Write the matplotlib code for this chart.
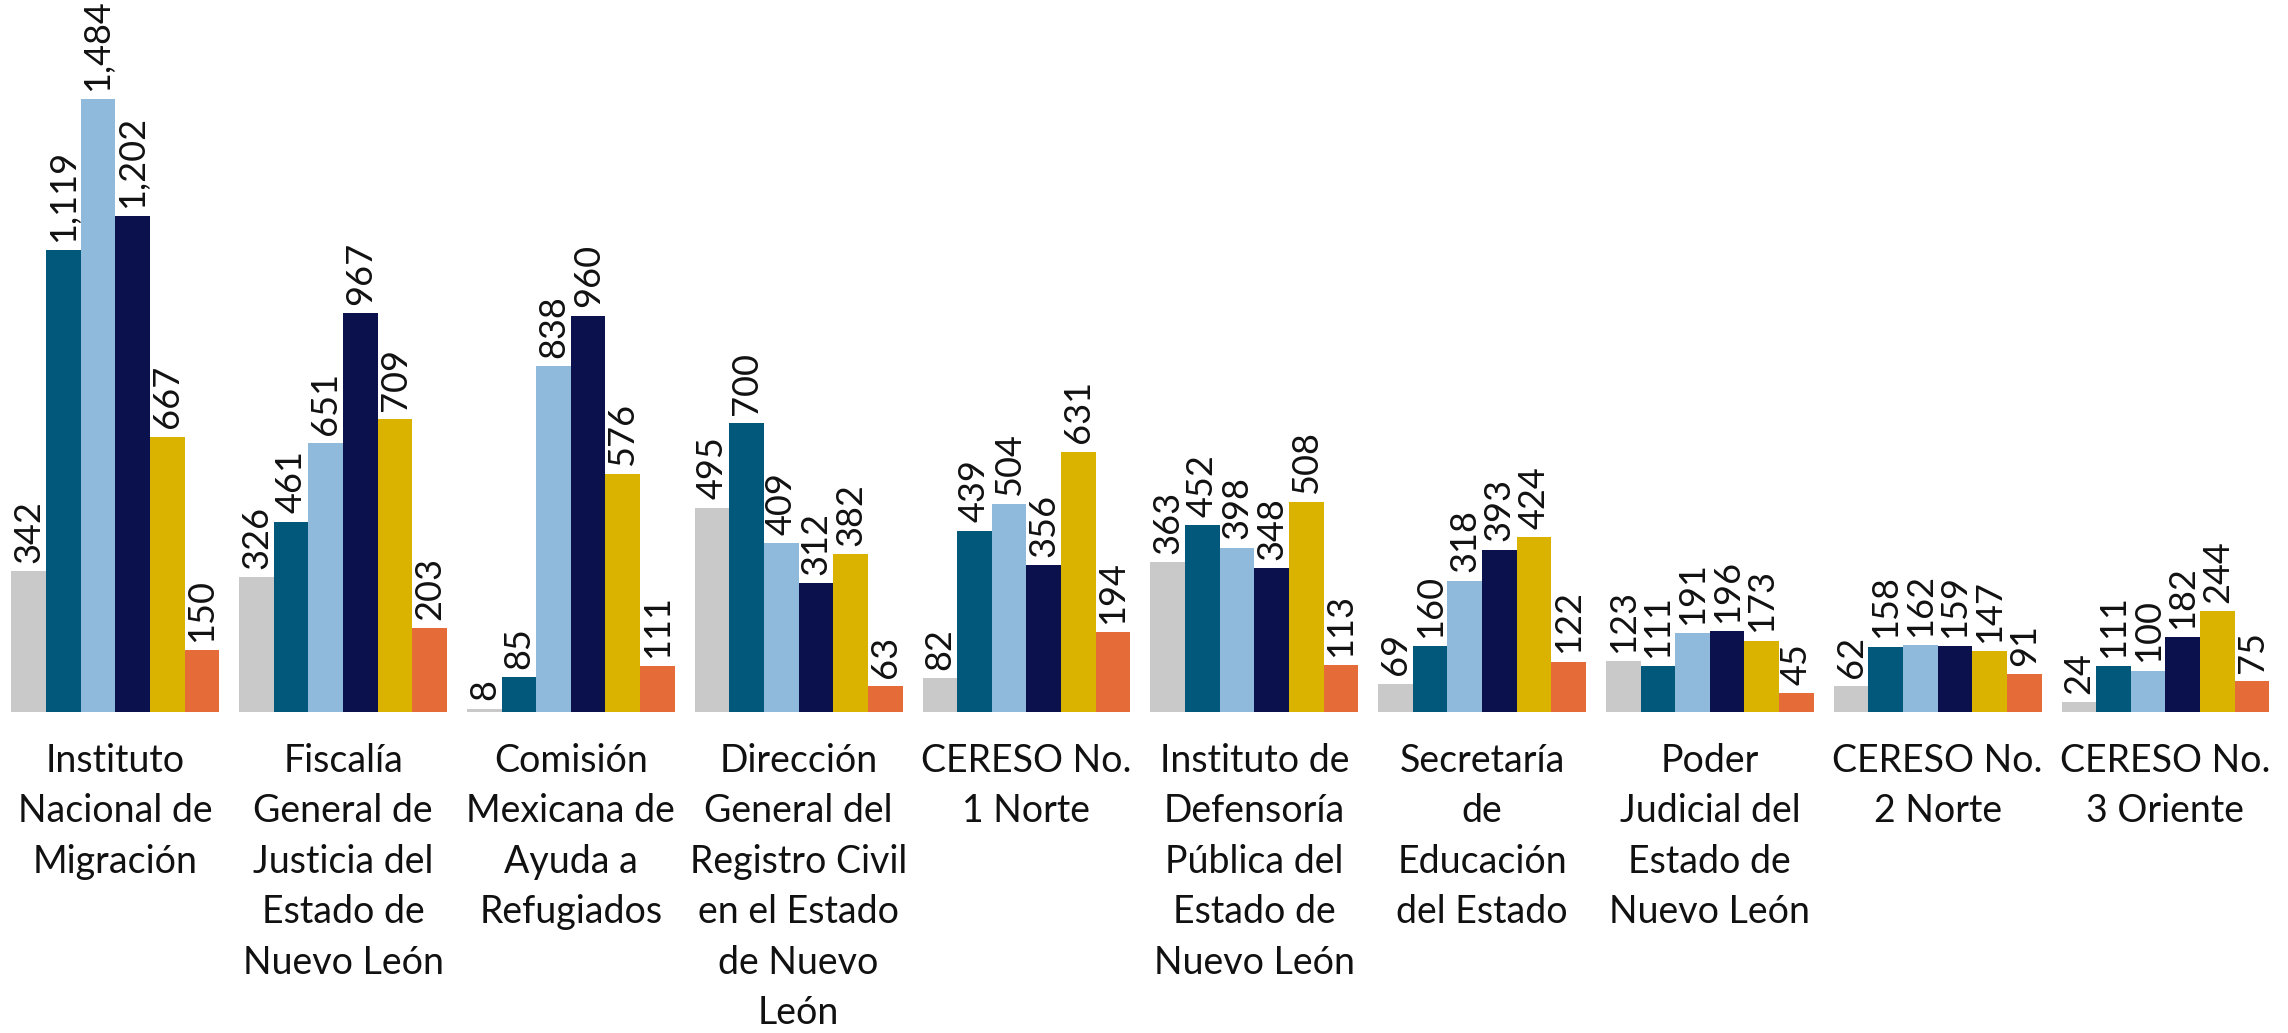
import matplotlib
matplotlib.use("Agg")
import matplotlib.pyplot as plt
import numpy as np

plt.rcParams['font.family'] = ['Lato', 'DejaVu Sans']

categories = [
    "Instituto\nNacional de\nMigración",
    "Fiscalía\nGeneral de\nJusticia del\nEstado de\nNuevo León",
    "Comisión\nMexicana de\nAyuda a\nRefugiados",
    "Dirección\nGeneral del\nRegistro Civil\nen el Estado\nde Nuevo\nLeón",
    "CERESO No.\n1 Norte",
    "Instituto de\nDefensoría\nPública del\nEstado de\nNuevo León",
    "Secretaría\nde\nEducación\ndel Estado",
    "Poder\nJudicial del\nEstado de\nNuevo León",
    "CERESO No.\n2 Norte",
    "CERESO No.\n3 Oriente",
]

serie_1 = [342, 326, 8, 495, 82, 363, 69, 123, 62, 24]
serie_2 = [1119, 461, 85, 700, 439, 452, 160, 111, 158, 111]
serie_3 = [1484, 651, 838, 409, 504, 398, 318, 191, 162, 100]
serie_4 = [1202, 967, 960, 312, 356, 348, 393, 196, 159, 182]
serie_5 = [667, 709, 576, 382, 631, 508, 424, 173, 147, 244]
serie_6 = [150, 203, 111, 63, 194, 113, 122, 45, 91, 75]

series = [serie_1, serie_2, serie_3, serie_4, serie_5, serie_6]
colors = ["#C9C9C9", "#02587A", "#8FBADB", "#0B114D", "#D9B300", "#E56C38"]

W, H = 2288, 1033
fig = plt.figure(figsize=(W / 100, H / 100), dpi=100)
base_px = 712
ax = fig.add_axes([0, (H - base_px) / H, 1, base_px / H])

n = len(series)
bw = 0.152
x = np.arange(len(categories))
for i, (vals, c) in enumerate(zip(series, colors)):
    pos = x + (i - (n - 1) / 2) * bw
    bars = ax.bar(pos, vals, width=bw, color=c, linewidth=0)
    for b, v in zip(bars, vals):
        ax.annotate(f"{v:,}", (b.get_x() + b.get_width() / 2, v),
                    xytext=(0, 6), textcoords="offset points",
                    rotation=90, ha="center", va="bottom",
                    fontsize=26, color="#111111")

ax.set_xlim(-0.506, 9.538)
ax.set_ylim(0, 1725)
ax.set_xticks(x)
ax.set_xticklabels(categories, fontsize=27, color="#111111", linespacing=1.5)
ax.tick_params(axis="x", length=0, pad=22)
ax.set_yticks([])
for s in ax.spines.values():
    s.set_visible(False)

fig.savefig("out.png", dpi=100)
